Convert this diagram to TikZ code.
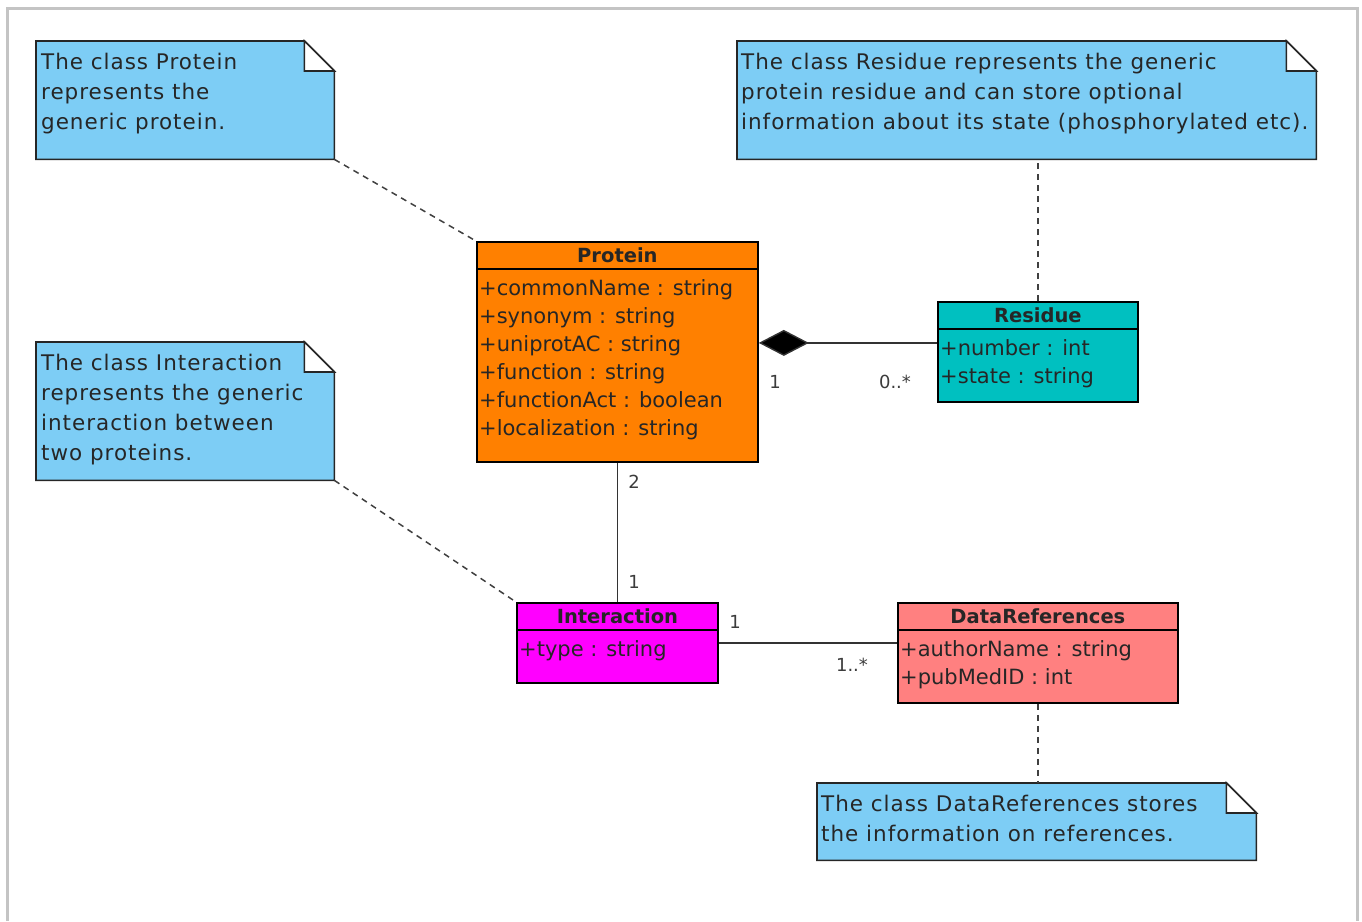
\documentclass[tikz,border=0pt]{standalone}
\usepackage{fontspec}
\setmainfont{DejaVu Sans}
\newfontfamily\notefamily[LetterSpace=4.5]{DejaVu Sans}
\usetikzlibrary{arrows.meta}
\definecolor{notefill}{RGB}{125,205,245}
\definecolor{protfill}{RGB}{255,128,0}
\definecolor{resfill}{RGB}{0,192,192}
\definecolor{interfill}{RGB}{255,0,255}
\definecolor{datafill}{RGB}{255,128,128}
\definecolor{framecol}{RGB}{196,196,196}
\definecolor{labelcol}{RGB}{60,60,60}
\tikzset{
  notebg/.style={draw=none, inner sep=0pt, anchor=north west},
  noteline/.style={draw=black!85, line width=1.6pt, line join=miter},
  notetext/.style={anchor=north west, inner sep=0pt, align=left, font=\notefamily\fontsize{21.5}{30}\selectfont, text=black!85},
  classbox/.style={draw=black, line width=1.8pt, inner sep=0pt, anchor=north west},
  classline/.style={draw=black, line width=1.8pt},
  titletext/.style={anchor=base, inner sep=0pt, font=\bfseries\fontsize{19.5}{24}\selectfont, text=black!85},
  attrtext/.style={anchor=north west, inner sep=0pt, align=left, font=\fontsize{21}{28}\selectfont, text=black!85},
  assoc/.style={draw=black!80, line width=1.4pt},
  notelink/.style={draw=black!75, line width=1.5pt, dash pattern=on 6pt off 5pt},
  mult/.style={anchor=base, inner sep=0pt, font=\fontsize{18}{21}\selectfont, text=labelcol}
}
\newcommand\drawnotefold[1]{%
  \draw[noteline, fill=notefill] (#1.north west) -- ([xshift=-30pt]#1.north east) -- ([yshift=-30pt]#1.north east) -- (#1.south east) -- (#1.south west) -- cycle;
  \draw[noteline, fill=white] ([xshift=-30pt]#1.north east) -- ([xshift=-30pt,yshift=-30pt]#1.north east) -- ([yshift=-30pt]#1.north east) -- cycle;}
\newcommand\classdivider[1]{%
  \draw[classline] ([yshift=-28pt]#1.north west) -- ([yshift=-28pt]#1.north east);}
\begin{document}
\begin{tikzpicture}[x=1pt,y=-1pt]
\useasboundingbox (0,0) rectangle (1362,921);
\draw[framecol, line width=3pt] (7,921) -- (7,8) -- (1357,8) -- (1357,921);

% notes
\node[notebg, minimum width=298pt, minimum height=118pt] (noteP) at (36,41) {};
\drawnotefold{noteP}
\node[notetext] (notePt) at (41,52) {\rule{0pt}{17pt}The class Protein\\represents the\\generic protein.};

\node[notebg, minimum width=579pt, minimum height=118pt] (noteR) at (737,41) {};
\drawnotefold{noteR}
\node[notetext] (noteRt) at (741,52) {\rule{0pt}{17pt}The class Residue represents the generic\\protein residue and can store optional\\information about its state (phosphorylated etc).};

\node[notebg, minimum width=298pt, minimum height=138pt] (noteI) at (36,342) {};
\drawnotefold{noteI}
\node[notetext] (noteIt) at (41,353) {\rule{0pt}{17pt}The class Interaction\\represents the generic\\interaction between\\two proteins.};

\node[notebg, minimum width=439pt, minimum height=77pt] (noteD) at (817,783) {};
\drawnotefold{noteD}
\node[notetext] (noteDt) at (821,794) {\rule{0pt}{17pt}The class DataReferences stores\\the information on references.};

% classes
\node[classbox, fill=protfill, minimum width=281pt, minimum height=220pt] (protein) at (476,241) {};
\classdivider{protein}
\node[titletext] (proteinT) at ([yshift=-21pt]protein.north) {Protein};
\node[attrtext] (proteinA) at ([xshift=3pt,yshift=-38pt]protein.north west) {\rule{0pt}{16pt}+commonName : string\\+synonym : string\\+uniprotAC : string\\+function : string\\+functionAct : boolean\\+localization : string};

\node[classbox, fill=resfill, minimum width=200pt, minimum height=100pt] (residue) at (937,301) {};
\classdivider{residue}
\node[titletext] (residueT) at ([yshift=-21pt]residue.north) {Residue};
\node[attrtext] (residueA) at ([xshift=3pt,yshift=-38pt]residue.north west) {\rule{0pt}{16pt}+number : int\\+state : string};

\node[classbox, fill=interfill, minimum width=201pt, minimum height=80pt] (interaction) at (516,602) {};
\classdivider{interaction}
\node[titletext] (interactionT) at ([yshift=-21pt]interaction.north) {Interaction};
\node[attrtext] (interactionA) at ([xshift=3pt,yshift=-38pt]interaction.north west) {\rule{0pt}{16pt}+type : string};

\node[classbox, fill=datafill, minimum width=280pt, minimum height=100pt] (dataref) at (897,602) {};
\classdivider{dataref}
\node[titletext] (datarefT) at ([yshift=-21pt]dataref.north) {DataReferences};
\node[attrtext] (datarefA) at ([xshift=3pt,yshift=-38pt]dataref.north west) {\rule{0pt}{16pt}+authorName : string\\+pubMedID : int};

% connectors
\draw[assoc, -{Diamond[length=50pt,width=26pt,fill=black]}] ([yshift=9pt]residue.west) -- ([yshift=9pt]residue.west -| protein.east);
\draw[assoc] (protein.south) -- (interaction.north);
\draw[assoc] (interaction.east) -- (interaction.east -| dataref.west);

\draw[notelink] (noteP.south east) -- (protein.north west);
\draw[notelink] (noteI.south east) -- (interaction.north west);
\draw[notelink] (residue.north) -- (residue.north |- noteR.south);
\draw[notelink] (dataref.south) -- (dataref.south |- noteD.north);

% multiplicities
\node[mult] (m1) at (775,388) {1};
\node[mult] (m2) at (895,388) {0..*};
\node[mult] (m3) at (634,488) {2};
\node[mult] (m4) at (634,588) {1};
\node[mult] (m5) at (735,628) {1};
\node[mult] (m6) at (852,671) {1..*};
\end{tikzpicture}
\end{document}
